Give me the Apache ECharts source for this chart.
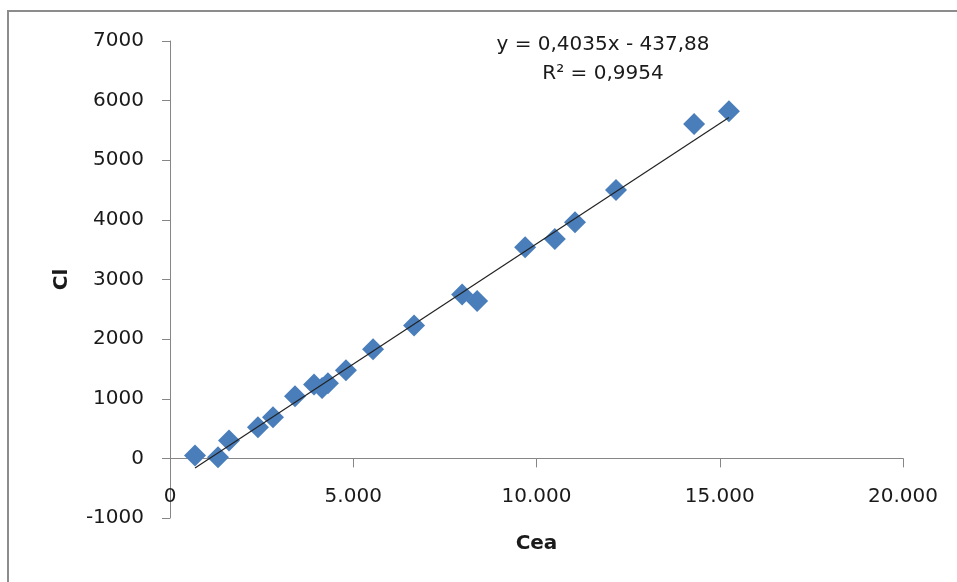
<!DOCTYPE html>
<html>
<head>
<meta charset="utf-8">
<script src="https://cdn.jsdelivr.net/npm/echarts@6/dist/echarts.min.js"></script>
<style>html,body{margin:0;padding:0;background:#fff}#c{width:957px;height:582px}</style>
</head>
<body>
<div id="c"></div>
<script>
// Data (Cea, Cl)
const ceaValues = [682, 1310, 1610, 2400, 2810, 3410, 3930, 4150, 4310, 4800, 5540, 6660, 7970, 8380, 9690, 10500, 11050, 12170, 14300, 15250];
const clValues  = [50, 20, 300, 520, 690, 1040, 1240, 1180, 1260, 1480, 1830, 2230, 2750, 2640, 3540, 3680, 3960, 4500, 5610, 5820];
const trendSlope = 0.4035;
const trendIntercept = -437.88;
const equationText = 'y = 0,4035x - 437,88';
const r2Text = 'R² = 0,9954';
const xTickLabels = {0: '0', 5000: '5.000', 10000: '10.000', 15000: '15.000', 20000: '20.000'};

const points = ceaValues.map((x, i) => [x, clValues[i]]);
const xMin = Math.min(...ceaValues), xMax = Math.max(...ceaValues);
const trend = [[xMin, trendSlope * xMin + trendIntercept], [xMax, trendSlope * xMax + trendIntercept]];

const font = 'DejaVu Sans';
const fs = 20;
const axisColor = '#868686';
const chart = echarts.init(document.getElementById('c'), null, {renderer: 'canvas'});
chart.setOption({
  animation: false,
  backgroundColor: '#fff',
  graphic: [
    {type: 'rect', shape: {x: 8, y: 11, width: 1000, height: 700}, style: {fill: 'none', stroke: '#8c8c8c', lineWidth: 2}, silent: true, z: -1},
    {type: 'text', x: 603, y: 30, style: {text: equationText + '\n' + r2Text, font: fs + 'px "' + font + '"', fill: '#1a1a1a', align: 'center', verticalAlign: 'top', lineHeight: 29}, silent: true}
  ],
  grid: {left: 170, right: 54, top: 41, bottom: 64, containLabel: false, outerBoundsMode: 'none'},
  xAxis: {
    type: 'value', min: 0, max: 20000, interval: 5000,
    name: 'Cea', nameLocation: 'middle', nameGap: 16,
    nameTextStyle: {fontFamily: font, fontWeight: 'bold', fontSize: fs, color: '#1a1a1a'},
    axisLine: {onZero: true, lineStyle: {color: axisColor, width: 1}},
    axisTick: {show: true, length: 9, lineStyle: {color: axisColor}},
    axisLabel: {margin: -31, fontFamily: font, fontSize: fs, color: '#1a1a1a', formatter: v => xTickLabels[v] !== undefined ? xTickLabels[v] : String(v)},
    splitLine: {show: false}
  },
  yAxis: {
    type: 'value', min: -1000, max: 7000, interval: 1000,
    name: 'Cl', nameLocation: 'middle', nameGap: 98,
    nameTextStyle: {fontFamily: font, fontWeight: 'bold', fontSize: fs, color: '#1a1a1a'},
    axisLine: {show: true, onZero: false, lineStyle: {color: axisColor, width: 1}},
    axisTick: {show: true, length: 8, lineStyle: {color: axisColor}},
    axisLabel: {margin: 26, fontFamily: font, fontSize: fs, color: '#1a1a1a', formatter: v => String(v)},
    splitLine: {show: false}
  },
  series: [
    {type: 'line', data: trend, symbol: 'none', lineStyle: {color: '#222', width: 1.2}, z: 3, silent: true},
    {type: 'scatter', data: points, symbol: 'diamond', symbolSize: 22, itemStyle: {color: '#4A7EBB', opacity: 1}, z: 2}
  ]
});
</script>
</body>
</html>
